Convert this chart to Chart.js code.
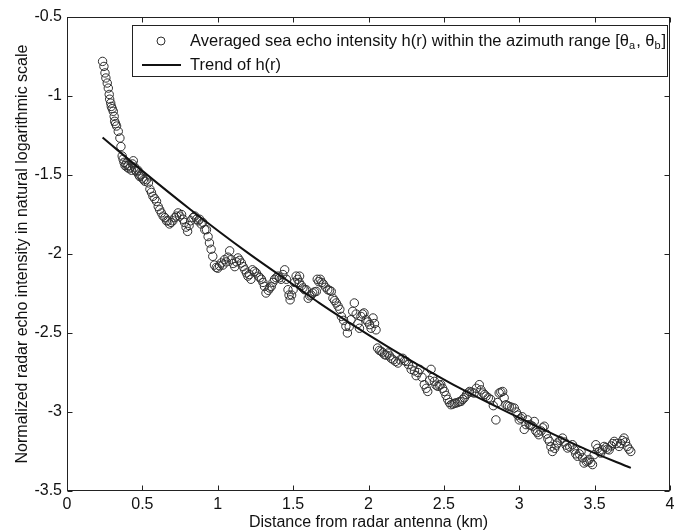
<!DOCTYPE html>
<html><head><meta charset="utf-8">
<script src="https://cdn.jsdelivr.net/npm/chart.js@4.4.0/dist/chart.umd.min.js"></script>
<style>html,body{margin:0;padding:0;background:#fff;}#wrap{position:relative;width:685px;height:532px;}</style>
</head><body><div id="wrap"><canvas id="c" width="685" height="532"></canvas></div>
<script>
const distKm = [0.236,0.245,0.252,0.258,0.267,0.274,0.280,0.283,0.290,0.294,0.300,0.307,0.313,0.316,0.322,0.329,0.340,0.351,0.358,0.366,0.372,0.378,0.385,0.392,0.398,0.405,0.412,0.420,0.428,0.435,0.440,0.448,0.455,0.462,0.470,0.477,0.483,0.490,0.500,0.508,0.517,0.528,0.540,0.550,0.560,0.570,0.582,0.594,0.605,0.615,0.626,0.638,0.650,0.660,0.670,0.680,0.690,0.702,0.715,0.726,0.737,0.748,0.760,0.770,0.780,0.790,0.800,0.810,0.820,0.836,0.848,0.860,0.870,0.880,0.890,0.900,0.914,0.925,0.936,0.945,0.956,0.967,0.978,0.990,1.000,1.012,1.023,1.034,1.045,1.056,1.068,1.079,1.090,1.102,1.113,1.124,1.134,1.145,1.157,1.168,1.180,1.190,1.200,1.210,1.220,1.230,1.243,1.256,1.270,1.280,1.290,1.300,1.310,1.320,1.335,1.345,1.355,1.366,1.377,1.388,1.400,1.410,1.420,1.432,1.444,1.455,1.466,1.473,1.480,1.490,1.500,1.510,1.520,1.530,1.540,1.543,1.555,1.565,1.576,1.587,1.600,1.610,1.620,1.630,1.642,1.654,1.660,1.670,1.680,1.690,1.700,1.715,1.730,1.742,1.753,1.764,1.775,1.786,1.798,1.810,1.820,1.835,1.850,1.860,1.872,1.884,1.895,1.906,1.918,1.930,1.940,1.950,1.960,1.970,1.985,1.996,2.007,2.017,2.030,2.040,2.050,2.060,2.072,2.084,2.095,2.106,2.117,2.128,2.140,2.150,2.165,2.180,2.195,2.210,2.227,2.240,2.250,2.265,2.283,2.293,2.305,2.316,2.328,2.340,2.355,2.370,2.383,2.393,2.405,2.415,2.426,2.437,2.448,2.460,2.470,2.480,2.492,2.503,2.514,2.525,2.536,2.547,2.560,2.570,2.580,2.592,2.603,2.614,2.625,2.636,2.650,2.660,2.670,2.685,2.700,2.715,2.735,2.746,2.760,2.770,2.780,2.795,2.810,2.828,2.845,2.856,2.867,2.878,2.890,2.900,2.912,2.923,2.934,2.950,2.967,2.980,2.990,3.000,3.010,3.020,3.033,3.045,3.055,3.066,3.077,3.088,3.100,3.110,3.120,3.130,3.145,3.155,3.166,3.180,3.190,3.200,3.210,3.220,3.235,3.245,3.254,3.270,3.287,3.300,3.310,3.320,3.335,3.353,3.365,3.375,3.386,3.398,3.410,3.420,3.430,3.445,3.455,3.464,3.475,3.486,3.497,3.508,3.520,3.530,3.540,3.552,3.563,3.575,3.585,3.596,3.610,3.620,3.630,3.645,3.662,3.675,3.685,3.695,3.705,3.717,3.728,3.740];
const echoIntensity = [-0.781,-0.813,-0.854,-0.886,-0.918,-0.950,-0.990,-1.020,-1.045,-1.066,-1.080,-1.097,-1.129,-1.160,-1.175,-1.190,-1.224,-1.266,-1.320,-1.380,-1.400,-1.420,-1.440,-1.430,-1.450,-1.440,-1.460,-1.450,-1.470,-1.430,-1.410,-1.450,-1.470,-1.480,-1.470,-1.500,-1.510,-1.500,-1.520,-1.530,-1.540,-1.530,-1.550,-1.590,-1.610,-1.635,-1.650,-1.667,-1.700,-1.720,-1.740,-1.760,-1.770,-1.790,-1.790,-1.810,-1.800,-1.790,-1.770,-1.760,-1.740,-1.760,-1.750,-1.780,-1.800,-1.830,-1.857,-1.820,-1.790,-1.770,-1.760,-1.780,-1.790,-1.780,-1.810,-1.800,-1.846,-1.846,-1.890,-1.930,-1.970,-2.015,-2.070,-2.085,-2.090,-2.075,-2.057,-2.070,-2.036,-2.050,-2.020,-1.980,-2.036,-2.060,-2.080,-2.050,-2.025,-2.040,-2.057,-2.080,-2.100,-2.120,-2.140,-2.130,-2.160,-2.100,-2.110,-2.120,-2.140,-2.150,-2.160,-2.180,-2.205,-2.247,-2.230,-2.215,-2.205,-2.180,-2.160,-2.150,-2.140,-2.150,-2.160,-2.130,-2.100,-2.160,-2.226,-2.260,-2.290,-2.260,-2.226,-2.180,-2.140,-2.160,-2.180,-2.140,-2.200,-2.215,-2.226,-2.226,-2.280,-2.265,-2.260,-2.247,-2.240,-2.237,-2.160,-2.175,-2.160,-2.180,-2.190,-2.210,-2.226,-2.230,-2.237,-2.280,-2.295,-2.310,-2.330,-2.350,-2.395,-2.420,-2.458,-2.500,-2.460,-2.416,-2.363,-2.310,-2.380,-2.440,-2.470,-2.395,-2.380,-2.373,-2.416,-2.430,-2.447,-2.470,-2.405,-2.440,-2.480,-2.595,-2.610,-2.616,-2.625,-2.637,-2.640,-2.627,-2.645,-2.660,-2.670,-2.680,-2.690,-2.670,-2.660,-2.675,-2.680,-2.700,-2.730,-2.710,-2.740,-2.770,-2.750,-2.730,-2.780,-2.827,-2.850,-2.870,-2.800,-2.730,-2.780,-2.806,-2.830,-2.838,-2.830,-2.827,-2.850,-2.870,-2.895,-2.920,-2.940,-2.954,-2.950,-2.945,-2.943,-2.940,-2.935,-2.933,-2.920,-2.910,-2.890,-2.880,-2.870,-2.875,-2.880,-2.850,-2.827,-2.860,-2.880,-2.890,-2.900,-2.910,-2.920,-2.960,-3.050,-2.940,-2.880,-2.875,-2.870,-2.910,-2.954,-2.960,-2.965,-2.970,-2.975,-3.000,-3.020,-3.050,-3.040,-3.030,-3.110,-3.080,-3.050,-3.080,-3.085,-3.090,-3.060,-3.120,-3.130,-3.144,-3.120,-3.100,-3.090,-3.140,-3.170,-3.186,-3.220,-3.250,-3.230,-3.210,-3.196,-3.180,-3.165,-3.190,-3.210,-3.228,-3.220,-3.207,-3.240,-3.265,-3.280,-3.265,-3.250,-3.290,-3.323,-3.315,-3.310,-3.300,-3.320,-3.333,-3.270,-3.207,-3.230,-3.250,-3.260,-3.240,-3.218,-3.225,-3.235,-3.240,-3.215,-3.200,-3.186,-3.200,-3.218,-3.200,-3.180,-3.165,-3.190,-3.218,-3.235,-3.250];
const trendKm = [0.236,0.5,0.814,1.2,1.543,1.675,2.0,2.27,2.6,3.13,3.45,3.74];
const trendValues = [-1.262,-1.474,-1.715,-1.993,-2.222,-2.311,-2.512,-2.668,-2.846,-3.097,-3.240,-3.354];
const xTickValues = [0,0.5,1,1.5,2,2.5,3,3.5,4];
const yTickValues = [-3.5,-3,-2.5,-2,-1.5,-1,-0.5];
const seriesNames = ["Averaged sea echo intensity h(r) within the azimuth range", "Trend of h(r)"];
const xTitle = "Distance from radar antenna (km)";
const yTitle = "Normalized radar echo intensity in natural logarithmic scale";

const FONT = '"Liberation Sans", Arial, Helvetica, sans-serif';
const markerColor = '#2e2e2e';

const scatterPts = distKm.map((x,i)=>({x:x, y:echoIntensity[i]}));
const trendPts = trendKm.map((x,i)=>({x:x, y:trendValues[i]}));

const frame = {
  id:'frame',
  afterDraw(chart){
    const ctx = chart.ctx, a = chart.chartArea;
    const xs = chart.scales.x, ys = chart.scales.y;
    ctx.save();
    ctx.strokeStyle = '#222'; ctx.lineWidth = 1;
    const L = Math.round(a.left)+0.5, R = Math.round(a.right)-0.5, T = Math.round(a.top)+0.5, B = Math.round(a.bottom)-0.5;
    ctx.strokeRect(L, T, R-L, B-T);
    const tl = 5;
    ctx.beginPath();
    xTickValues.forEach(v=>{
      const p = Math.round(xs.getPixelForValue(v))+0.5;
      ctx.moveTo(p,B); ctx.lineTo(p,B-tl);
      ctx.moveTo(p,T); ctx.lineTo(p,T+tl);
    });
    yTickValues.forEach(v=>{
      const p = Math.round(ys.getPixelForValue(v))+0.5;
      ctx.moveTo(L,p); ctx.lineTo(L+tl,p);
      ctx.moveTo(R,p); ctx.lineTo(R-tl,p);
    });
    ctx.stroke();

    // legend
    const bx = 132.5, by = 25.5, bw = 535, bh = 51;
    ctx.fillStyle = '#fff'; ctx.fillRect(bx,by,bw,bh);
    ctx.strokeStyle = '#222'; ctx.lineWidth = 1; ctx.strokeRect(bx,by,bw,bh);
    const r1 = 41, r2 = 65, tx = 190;
    ctx.beginPath(); ctx.arc(161, r1, 4, 0, Math.PI*2);
    ctx.strokeStyle = markerColor; ctx.lineWidth = 1; ctx.stroke();
    ctx.beginPath(); ctx.moveTo(142, r2); ctx.lineTo(181, r2);
    ctx.strokeStyle = '#111'; ctx.lineWidth = 2; ctx.stroke();
    ctx.fillStyle = '#111'; ctx.textBaseline = 'middle'; ctx.textAlign = 'left';
    const parts = [[seriesNames[0]+' [\u03b8',0],['a',1],[', \u03b8',0],['b',1],[']',0]];
    let cx = tx;
    parts.forEach(([t,sub])=>{
      ctx.font = (sub? '11px ':'16.5px ') + FONT;
      ctx.fillText(t, cx, r1 + (sub?5:0));
      cx += ctx.measureText(t).width + (sub?1:0);
    });
    ctx.font = '16.5px ' + FONT;
    ctx.fillText(seriesNames[1], tx, r2);
    ctx.restore();
  }
};

new Chart(document.getElementById('c'), {
  type:'scatter',
  data:{datasets:[
    {label:seriesNames[1], data:trendPts, showLine:true, borderColor:'#111', borderWidth:2, pointRadius:0, cubicInterpolationMode:'monotone', fill:false},
    {label:seriesNames[0], data:scatterPts, pointStyle:'circle', pointRadius:4.2, pointBorderWidth:1, pointBackgroundColor:'rgba(0,0,0,0)', pointBorderColor:markerColor, showLine:false}
  ]},
  options:{
    responsive:false, animation:false, devicePixelRatio:1,
    layout:{padding:{left:0,right:15,top:17,bottom:0}},
    plugins:{legend:{display:false}, tooltip:{enabled:false}},
    scales:{
      x:{type:'linear', min:0, max:4,
        afterBuildTicks(s){ s.ticks = xTickValues.map(v=>({value:v})); },
        afterFit(s){ s.height = 41; },
        grid:{display:false, drawTicks:false}, border:{display:false},
        ticks:{padding:4, color:'#111', font:{family:FONT, size:16}, maxRotation:0, callback:v=>String(v)},
        title:{display:true, text:xTitle, color:'#111', font:{family:FONT, size:16}, padding:{top:0,bottom:0}}
      },
      y:{type:'linear', min:-3.5, max:-0.5,
        afterBuildTicks(s){ s.ticks = yTickValues.map(v=>({value:v})); },
        afterFit(s){ s.width = 67; },
        grid:{display:false, drawTicks:false}, border:{display:false},
        ticks:{padding:5, color:'#111', font:{family:FONT, size:16}, callback:v=>String(v)},
        title:{display:true, text:yTitle, color:'#111', font:{family:FONT, size:16}, padding:{top:13,bottom:0}}
      }
    }
  },
  plugins:[frame]
});
</script></body></html>
